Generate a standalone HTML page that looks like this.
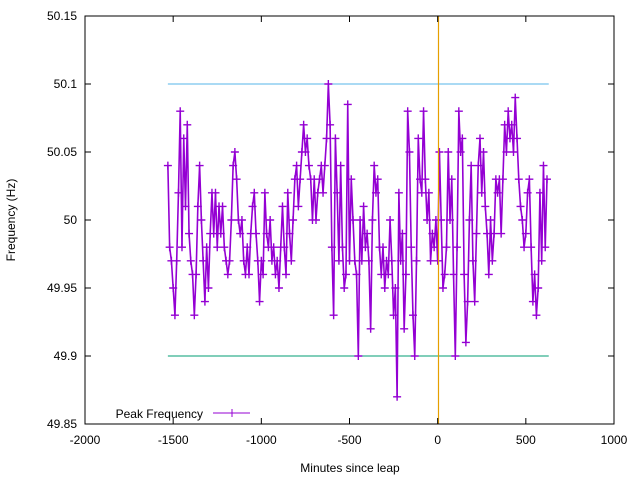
<!DOCTYPE html>
<html><head><meta charset="utf-8"><style>
html,body{margin:0;padding:0;background:#fff;}
svg{display:block;font-family:"Liberation Sans",sans-serif;font-size:12px;}
</style></head><body>
<svg id="chart" width="640" height="480">
<rect x="0" y="0" width="640" height="480" fill="#fff"/>
<g id="grid"></g>
<g id="series"></g>
<rect x="85" y="16" width="529" height="408" fill="none" stroke="#000" stroke-width="1"/>
<g id="axes"></g>
<text x="12" y="220" transform="rotate(-90 12 220)" text-anchor="middle" dominant-baseline="middle">Frequency (Hz)</text>
<text x="350" y="472" text-anchor="middle">Minutes since leap</text>
<g>
<text x="203" y="418" text-anchor="end">Peak Frequency</text>
<line x1="213" y1="413" x2="250" y2="413" stroke="#9400d3" stroke-width="1"/>
<line x1="228" y1="413" x2="236" y2="413" stroke="#9400d3"/>
<line x1="232" y1="409" x2="232" y2="417" stroke="#9400d3"/>
</g>
</svg>
<script>
const xTicks = [-2000,-1500,-1000,-500,0,500,1000];
const yTicks = [49.85,49.9,49.95,50,50.05,50.1,50.15];
const yTickLabels = ["49.85","49.9","49.95","50","50.05","50.1","50.15"];
const startMinute = -1530;
const stepMinutes = 10;
const freqValues = [
50.04,49.98,49.97,49.95,49.93,49.97,50.02,50.08,49.98,50.06,50.01,50.07,49.99,49.97,49.96,49.93,49.96,50.01,50.04,50.0,
49.97,49.94,49.98,49.95,49.99,50.02,49.99,50.02,49.98,50.01,49.99,50.01,49.98,49.97,49.96,49.97,50.0,50.04,50.05,50.03,
50.0,49.99,50.0,49.97,49.96,49.98,49.96,49.99,50.01,50.02,49.99,49.97,49.94,49.97,49.96,50.02,49.99,49.98,50.0,49.97,
49.98,49.96,49.97,49.95,49.98,50.01,49.98,49.96,50.02,49.99,49.97,50.0,50.03,50.04,50.01,50.03,50.05,50.07,50.05,50.06,
50.04,50.03,50.0,50.03,50.0,50.02,50.03,50.04,50.02,50.04,50.06,
50.1,50.07,49.98,49.93,50.06,50.02,49.97,50.04,49.98,49.95,49.96,50.085,49.97,50.03,50.0,49.97,49.96,49.9,50.0,49.97,
50.01,49.98,49.99,49.97,49.92,50.0,50.04,50.02,50.03,49.98,49.96,49.98,49.95,49.97,49.96,50.0,49.97,49.93,49.95,49.87,
50.02,49.97,49.99,49.92,49.96,50.08,50.05,49.98,49.93,49.9,49.97,50.06,50.03,50.02,50.08,50.03,50.0,50.02,49.97,49.99,
49.98,50.0,49.97,50.05,50.0,49.95,49.96,49.98,50.05,50.0,50.03,49.96,49.9,49.98,50.08,50.05,50.06,49.96,49.91,49.94,
50.0,50.04,49.97,49.94,49.99,50.04,50.06,50.02,50.05,50.01,49.99,49.96,50.0,49.97,49.99,50.03,50.02,50.03,49.99,50.03,
50.07,50.05,50.08,50.06,50.07,50.05,50.09,50.06,50.03,50.01,50.0,49.98,49.99,50.02,50.03,49.98,49.94,49.96,49.93,49.95,
50.02,49.97,50.04,49.98,50.03
];
const refHigh = 50.1, refLow = 49.9, refStart = -1530, refEnd = 630, leapMinute = 0;

const NS = "http://www.w3.org/2000/svg";
const X0 = 85, X1 = 614, Y0 = 424, Y1 = 16;
function xScale(m){ return X0 + (m - (-2000)) / 3000 * (X1 - X0); }
function yScale(v){ return Y0 - (v - 49.85) / 0.3 * (Y0 - Y1); }
function mk(tag, attrs, parent){ const e = document.createElementNS(NS, tag); for (const k in attrs) e.setAttribute(k, attrs[k]); parent.appendChild(e); return e; }

const axes = document.getElementById('axes');
xTicks.forEach((t) => {
  const x = xScale(t);
  const a = mk('line', {x1:x, y1:Y0, x2:x, y2:Y0-6, stroke:'#000'}, axes);
  
  
  const b = mk('line', {x1:x, y1:Y1, x2:x, y2:Y1+6, stroke:'#000'}, axes);
  
  
  const tx = mk('text', {x:x, y:Y0+20, 'text-anchor':'middle'}, axes);
  tx.textContent = String(t);
  
  
});
yTicks.forEach((t, i) => {
  const y = yScale(t);
  const a = mk('line', {x1:X0, y1:y, x2:X0+6, y2:y, stroke:'#000'}, axes);
  
  
  const b = mk('line', {x1:X1, y1:y, x2:X1-6, y2:y, stroke:'#000'}, axes);
  
  
  const tx = mk('text', {x:X0-8, y:y+4, 'text-anchor':'end'}, axes);
  tx.textContent = yTickLabels[i];
  
  
});

const grid = document.getElementById('grid');
const hi = mk('line', {x1:xScale(refStart), y1:yScale(refHigh), x2:xScale(refEnd), y2:yScale(refHigh), stroke:'#56b4e9'}, grid);


const lo = mk('line', {x1:xScale(refStart), y1:yScale(refLow), x2:xScale(refEnd), y2:yScale(refLow), stroke:'#009e73'}, grid);



const series = document.getElementById('series');
let d = '';
freqValues.forEach((v, i) => {
  const x = xScale(startMinute + i * stepMinutes), y = yScale(v);
  d += (i ? 'L' : 'M') + x.toFixed(2) + ' ' + y.toFixed(2);
});
const path = mk('path', {d:d, fill:'none', stroke:'#9400d3', 'stroke-width':1.6}, series);


let md = '';
freqValues.forEach((v, i) => {
  const x = xScale(startMinute + i * stepMinutes), y = yScale(v);
  md += 'M' + (x-4).toFixed(2) + ' ' + y.toFixed(2) + 'h8M' + x.toFixed(2) + ' ' + (y-4).toFixed(2) + 'v8';
});
const marks = mk('path', {d:md, fill:'none', stroke:'#9400d3', 'stroke-width':1.4}, series);



const leap = mk('line', {x1:Math.round(xScale(leapMinute))+0.5, y1:Y1, x2:Math.round(xScale(leapMinute))+0.5, y2:Y0, stroke:'#e69f00', 'stroke-width':1.2}, series);


</script>
</body></html>
